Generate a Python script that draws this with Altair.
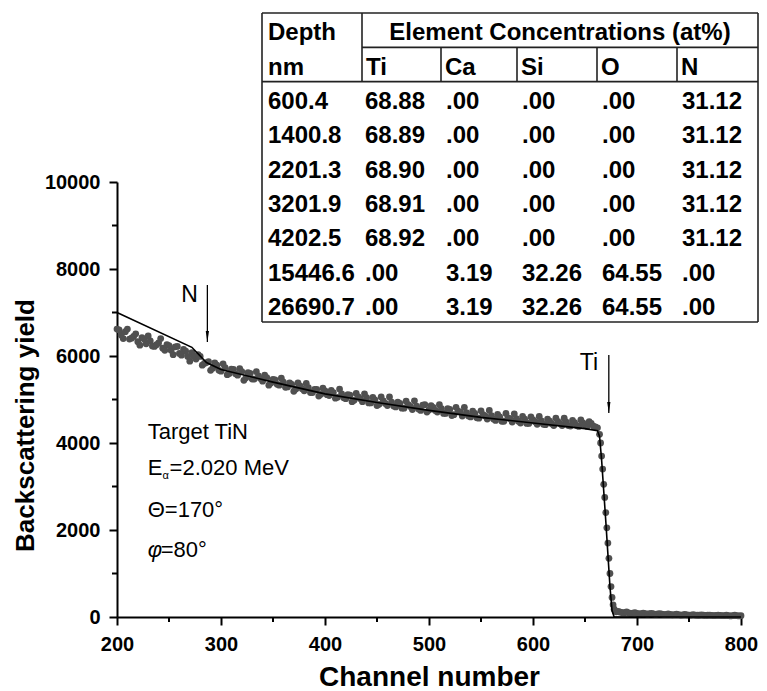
import altair as alt
import pandas as pd

# ---------------- measured spectrum (dots) ----------------
channels = [
    200, 204, 208, 212, 216, 220, 224, 228, 232, 236, 240, 244, 248, 252, 256, 260,
    264, 268, 272, 276, 280, 284, 288, 292, 296, 300, 304, 308, 312, 316, 320, 324,
    328, 332, 336, 340, 344, 348, 352, 356, 360, 364, 368, 372, 376, 380, 384, 388,
    392, 396, 400, 404, 408, 412, 416, 420, 424, 428, 432, 436, 440, 444, 448, 452,
    456, 460, 464, 468, 472, 476, 480, 484, 488, 492, 496, 500, 504, 508, 512, 516,
    520, 524, 528, 532, 536, 540, 544, 548, 552, 556, 560, 564, 568, 572, 576, 580,
    584, 588, 592, 596, 600, 604, 608, 612, 616, 620, 624, 628, 632, 636, 640, 644,
    648, 652, 656, 660,
    662, 664, 665, 666, 667, 668, 669, 670, 671, 672, 673, 674, 675, 676, 677, 678, 679,
    680, 684, 688, 692, 696, 700, 704, 708, 712, 716, 720, 724, 728, 732, 736, 740,
    744, 748, 752, 756, 760, 764, 768, 772, 776, 780, 784, 788, 792, 796, 800,
]
yields = [
    6620, 6480, 6560, 6390, 6450, 6330, 6420, 6280, 6350, 6220, 6300, 6180, 6260, 6130, 6210, 6060,
    6150, 5990, 6080, 5930, 5990, 5830, 5870, 5720, 5790, 5650, 5730, 5600, 5690, 5560, 5640, 5500,
    5600, 5470, 5540, 5420, 5500, 5380, 5450, 5330, 5400, 5290, 5350, 5240, 5310, 5200, 5270, 5160,
    5230, 5120, 5200, 5090, 5160, 5050, 5130, 5020, 5100, 4980, 5060, 4950, 5040, 4920, 4990, 4890,
    4970, 4860, 4940, 4830, 4910, 4800, 4880, 4770, 4850, 4750, 4880, 4760, 4820, 4710, 4790, 4680,
    4770, 4650, 4730, 4620, 4700, 4600, 4680, 4570, 4650, 4550, 4630, 4520, 4600, 4500, 4580, 4480,
    4560, 4460, 4550, 4450, 4530, 4430, 4510, 4420, 4500, 4400, 4490, 4400, 4480, 4390, 4470, 4380,
    4460, 4380, 4450, 4370,
    4350, 4200, 4000, 3700, 3400, 3050, 2750, 2400, 2050, 1700, 1350, 1000, 700, 450, 280, 180, 140,
    120, 110, 100, 95, 90, 85, 80, 80, 75, 70, 70, 65, 60, 60, 55, 55,
    50, 50, 45, 45, 40, 40, 40, 35, 35, 35, 30, 30, 30, 30, 30,
]
# second, interleaved sweep of the measured dots
channels_b = [
    202, 206, 210, 214, 218, 222, 226, 230, 234, 238, 242, 246, 250, 254, 258, 262,
    266, 270, 274, 278, 282, 286, 290, 294, 298, 302, 306, 310, 314, 318, 322, 326,
    330, 334, 338, 342, 346, 350, 354, 358, 362, 366, 370, 374, 378, 382, 386, 390,
    394, 398, 402, 406, 410, 414, 418, 422, 426, 430, 434, 438, 442, 446, 450, 454,
    458, 462, 466, 470, 474, 478, 482, 486, 490, 494, 498, 502, 506, 510, 514, 518,
    522, 526, 530, 534, 538, 542, 546, 550, 554, 558, 562, 566, 570, 574, 578, 582,
    586, 590, 594, 598, 602, 606, 610, 614, 618, 622, 626, 630, 634, 638, 642, 646,
    650, 654, 658,
    682, 686, 690, 694, 698, 702, 706, 710, 714, 718, 722, 726, 730, 734, 738, 742,
    746, 750, 754, 758, 762, 766, 770, 774, 778, 782, 786, 790, 794, 798,
]
yields_b = [
    6600, 6400, 6620, 6410, 6510, 6250, 6390, 6460, 6230, 6260, 6400, 6130, 6240, 6030, 6220, 6020,
    6110, 5880, 5990, 6030, 5790, 5850, 5670, 5840, 5670, 5820, 5570, 5700, 5590, 5710, 5440, 5620,
    5470, 5640, 5480, 5560, 5330, 5460, 5350, 5490, 5280, 5380, 5190, 5380, 5250, 5370, 5160, 5230,
    5080, 5260, 5110, 5210, 5030, 5240, 5040, 5110, 4950, 5140, 5020, 5130, 4920, 5050, 4860, 5060,
    4910, 5060, 4850, 4940, 4800, 4960, 4840, 4970, 4780, 4870, 4710, 4860, 4750, 4880, 4680, 4790,
    4630, 4820, 4710, 4820, 4620, 4730, 4580, 4740, 4620, 4750, 4550, 4660, 4500, 4680, 4560, 4670,
    4500, 4610, 4450, 4600, 4490, 4610, 4430, 4550, 4440, 4570, 4450, 4570, 4400, 4520, 4400, 4530,
    4400, 4490, 4390,
    130, 100, 115, 85, 100, 70, 90, 65, 85, 60, 80, 55, 70, 50, 65, 45,
    60, 45, 55, 40, 50, 35, 45, 30, 45, 30, 40, 25, 40, 25,
]

# ---------------- simulated spectrum (line) ----------------
sim_channels = [200, 272, 286, 300, 350, 400, 450, 500, 550, 600, 650, 662, 664, 666, 668,
                670, 672, 674, 676, 678, 800]
sim_yields = [7000, 6200, 5850, 5690, 5400, 5130, 4930, 4750, 4590, 4460, 4330, 4280, 4150,
              3600, 2900, 2200, 1450, 700, 150, 0, 0]

# ---------------- axes ----------------
x_major = [200, 300, 400, 500, 600, 700, 800]
x_minor = [250, 350, 450, 550, 650, 750]
y_major = [0, 2000, 4000, 6000, 8000, 10000]
y_minor = [1000, 3000, 5000, 7000, 9000]

# ---------------- table ----------------
depth_nm = ["600.4", "1400.8", "2201.3", "3201.9", "4202.5", "15446.6", "26690.7"]
conc_ti = ["68.88", "68.89", "68.90", "68.91", "68.92", ".00", ".00"]
conc_ca = [".00", ".00", ".00", ".00", ".00", "3.19", "3.19"]
conc_si = [".00", ".00", ".00", ".00", ".00", "32.26", "32.26"]
conc_o = [".00", ".00", ".00", ".00", ".00", "64.55", "64.55"]
conc_n = ["31.12", "31.12", "31.12", "31.12", "31.12", ".00", ".00"]
element_names = ["Ti", "Ca", "Si", "O", "N"]
table_header = ["Depth", "nm", "Element Concentrations (at%)"]

# ---------------- annotations ----------------
arrow_labels = ["N", "Ti"]
arrow_ch = [286.9, 672.9]
arrow_top = [7632, 6023]
arrow_tip = [6322, 4690]
label_ch = [269.7, 653.8]
label_val = [7400, 5840]

FONT = "Liberation Sans"
PLOT_W = 624

dots_df = pd.DataFrame({"ch": channels + channels_b, "val": yields + yields_b})
sim_df = pd.DataFrame({"ch": sim_channels, "val": sim_yields})


def xs():
    return alt.Scale(domain=[200, 800], nice=False, zero=False)


def ys():
    return alt.Scale(domain=[0, 10000], nice=False)


x_axis = alt.Axis(values=x_major, title="Channel number", format="d", labelFlush=False,
                  labelPadding=9, titlePadding=9, titleFontSize=28)
y_axis = alt.Axis(values=y_major, title="Backscattering yield", format="d", labelFlush=False,
                  labelPadding=9, titlePadding=6, titleY=243)

dots = alt.Chart(dots_df).mark_circle(size=46, color="#505050", opacity=1).encode(
    x=alt.X("ch:Q", scale=xs(), axis=x_axis),
    y=alt.Y("val:Q", scale=ys(), axis=y_axis),
)
line = alt.Chart(sim_df).mark_line(color="black", strokeWidth=1.6).encode(
    x=alt.X("ch:Q", scale=xs(), axis=None),
    y=alt.Y("val:Q", scale=ys(), axis=None),
)

ymin_df = pd.DataFrame({"val": y_minor})
y_minor_ticks = alt.Chart(ymin_df).mark_rule(color="black", strokeWidth=2).encode(
    y=alt.Y("val:Q", scale=ys(), axis=None),
    x=alt.value(-5), x2=alt.value(0),
)
xmin_df = pd.DataFrame({"ch": x_minor})
x_minor_ticks = alt.Chart(xmin_df).mark_rule(color="black", strokeWidth=2).encode(
    x=alt.X("ch:Q", scale=xs(), axis=None),
    y=alt.value(435), y2=alt.value(440),
)

arrow_df = pd.DataFrame({"ch": arrow_ch, "top": arrow_top, "tip": arrow_tip,
                         "head": [t + 126 for t in arrow_tip]})
arrow_lines = alt.Chart(arrow_df).mark_rule(color="black", strokeWidth=1.3).encode(
    x=alt.X("ch:Q", scale=xs(), axis=None),
    y=alt.Y("top:Q", scale=ys(), axis=None),
    y2="tip:Q",
)
arrow_heads = alt.Chart(arrow_df).mark_point(
    shape="M-0.3,-1L0,1L0.3,-1Z", filled=True, color="black", size=120, opacity=1
).encode(
    x=alt.X("ch:Q", scale=xs(), axis=None),
    y=alt.Y("head:Q", scale=ys(), axis=None),
)
arrow_text_df = pd.DataFrame({"ch": label_ch, "val": label_val, "t": arrow_labels})
arrow_text = alt.Chart(arrow_text_df).mark_text(
    font=FONT, fontSize=23, color="black", align="center", baseline="middle"
).encode(
    x=alt.X("ch:Q", scale=xs(), axis=None),
    y=alt.Y("val:Q", scale=ys(), axis=None),
    text="t:N",
)

note_df = pd.DataFrame({
    "ch": [229.5, 229.5, 243.7, 250.6, 229.5, 242.0],
    "val": [4250, 3425, 3240, 3425, 2460, 1540],
    "t": ["Target TiN", "E", "α", "=2.020 MeV", "Θ=170°", "=80°"],
    "fs": [22, 22, 11, 22, 22, 22],
})
notes = alt.Chart(note_df).mark_text(
    font=FONT, color="black", align="left", baseline="middle"
).encode(
    x=alt.X("ch:Q", scale=xs(), axis=None),
    y=alt.Y("val:Q", scale=ys(), axis=None),
    text="t:N",
    size=alt.Size("fs:Q", scale=None, legend=None),
)
phi_df = pd.DataFrame({"ch": [229.5], "val": [1540], "t": ["φ"]})
phi = alt.Chart(phi_df).mark_text(
    font=FONT, fontSize=22, fontStyle="italic", color="black", align="left", baseline="middle"
).encode(
    x=alt.X("ch:Q", scale=xs(), axis=None),
    y=alt.Y("val:Q", scale=ys(), axis=None),
    text="t:N",
)

# ---- table (its own coordinate system: px across, rows down) ----
col_edges = [0, 100, 179, 255, 335, 415, 496]


def tx():
    return alt.Scale(domain=[0, 496], range=[145, 641])


def ty():
    return alt.Scale(domain=[0, 9], range=[-169, 140])


rules = pd.DataFrame([
    (0, 496, 0, 0), (0, 496, 9, 9), (0, 0, 0, 9), (496, 496, 0, 9),
    (100, 496, 1, 1), (0, 496, 2, 2), (100, 100, 0, 2),
] + [(e, e, 1, 2) for e in col_edges[2:6]], columns=["x", "x2", "y", "y2"])
table_rules = alt.Chart(rules).mark_rule(color="#222", strokeWidth=1.6).encode(
    x=alt.X("x:Q", scale=tx(), axis=None), x2="x2:Q",
    y=alt.Y("y:Q", scale=ty(), axis=None), y2="y2:Q",
)

cells = []
cells.append((6, 0.5, table_header[0], "left"))
cells.append((6, 1.5, table_header[1], "left"))
cells.append(((col_edges[1] + col_edges[6]) / 2, 0.5, table_header[2], "center"))
for i, name in enumerate(element_names):
    cells.append((col_edges[i + 1] + 4, 1.5, name, "left"))
columns = [depth_nm, conc_ti, conc_ca, conc_si, conc_o, conc_n]
pads = [6, 3, 5, 5, 5, 5]
for c, col in enumerate(columns):
    for r, v in enumerate(col):
        cells.append((col_edges[c] + pads[c], r + 2.5, v, "left"))
cell_df = pd.DataFrame(cells, columns=["x", "y", "t", "al"])


def cell_layer(align):
    return alt.Chart(cell_df[cell_df["al"] == align]).mark_text(
        font=FONT, fontSize=24, fontWeight="bold", color="black", align=align,
        baseline="middle", dy=3
    ).encode(
        x=alt.X("x:Q", scale=tx(), axis=None),
        y=alt.Y("y:Q", scale=ty(), axis=None),
        text="t:N",
    )


chart = alt.layer(
    dots, line, y_minor_ticks, x_minor_ticks, arrow_lines, arrow_heads, arrow_text, notes, phi,
    table_rules, cell_layer("left"), cell_layer("center"),
).resolve_scale(x="independent", y="independent").properties(
    width=PLOT_W, height=435,
    autosize=alt.AutoSizeParams(type="none"),
    padding={"left": 109, "top": 174, "right": 18, "bottom": 74},
).configure_view(stroke=None).configure_axis(
    grid=False,
    domainColor="black", domainWidth=2,
    tickColor="black", tickWidth=2, tickSize=8,
    labelFont=FONT, labelFontSize=20, labelFontWeight="bold", labelColor="black",
    titleFont=FONT, titleFontSize=26, titleFontWeight="bold", titleColor="black",
)

chart.save("out.html", embed_options={"renderer": "svg", "actions": False})
